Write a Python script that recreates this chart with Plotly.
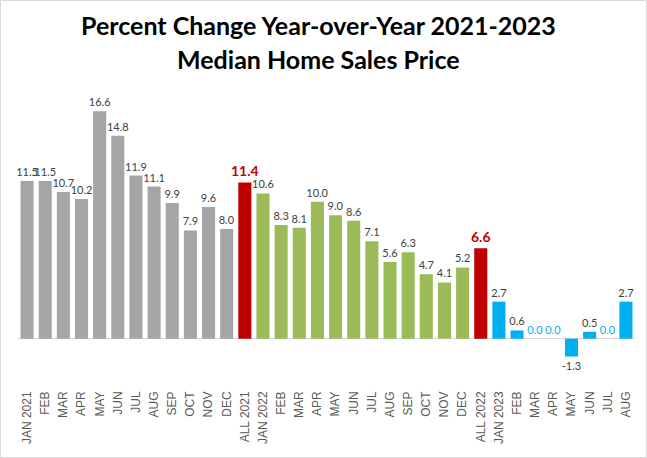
import plotly.graph_objects as go

labels = ["JAN 2021", "FEB", "MAR", "APR", "MAY", "JUN", "JUL", "AUG", "SEP", "OCT", "NOV", "DEC", "ALL 2021",
          "JAN 2022", "FEB", "MAR", "APR", "MAY", "JUN", "JUL", "AUG", "SEP", "OCT", "NOV", "DEC", "ALL 2022",
          "JAN 2023", "FEB", "MAR", "APR", "MAY", "JUN", "JUL", "AUG"]
values_2021 = [11.5, 11.5, 10.7, 10.2, 16.6, 14.8, 11.9, 11.1, 9.9, 7.9, 9.6, 8.0]
all_2021 = [11.4]
values_2022 = [10.6, 8.3, 8.1, 10.0, 9.0, 8.6, 7.1, 5.6, 6.3, 4.7, 4.1, 5.2]
all_2022 = [6.6]
values_2023 = [2.7, 0.6, 0.0, 0.0, -1.3, 0.5, 0.0, 2.7]
title_lines = ["Percent Change Year-over-Year 2021-2023", "Median Home Sales Price"]

GRAY, RED, GREEN, BLUE = "#A5A5A5", "#C00000", "#9BBB59", "#00B0F0"
LBL = "#404040"
BAR_W = 0.72

n21, n22, n23 = len(values_2021), len(values_2022), len(values_2023)
x21 = list(range(0, n21))
xa21 = [n21]
x22 = list(range(n21 + 1, n21 + 1 + n22))
xa22 = [n21 + 1 + n22]
x23 = list(range(n21 + 2 + n22, n21 + 2 + n22 + n23))
x_all = list(range(len(labels)))

fig = go.Figure()


def add(xs, ys, color, fmt="{:.1f}", font_color=LBL, size=11):
    fig.add_trace(go.Bar(
        x=xs, y=ys, width=BAR_W, marker=dict(color=color, line=dict(width=0)),
        text=[fmt.format(v) for v in ys], textposition="outside",
        textfont=dict(color=font_color, size=size, family="Lato"),
        constraintext="none", cliponaxis=False, hoverinfo="skip",
    ))


add(x21, values_2021, GRAY)
add(xa21 + xa22, all_2021 + all_2022, RED, fmt="<b>{:.1f}</b>", font_color=RED, size=14)
add(x22, values_2022, GREEN)
add(x23, values_2023, BLUE, font_color=[BLUE if v == 0 else LBL for v in values_2023])

W, H = 647, 458
L, R, T, B = 18, 12, 92, 70
PW, PH = W - L - R, H - T - B


def px_x(p):
    return (p - L) / PW


def px_y(p):
    return (H - B - p) / PH


annotations = [
    dict(text=f"<b>{t}</b>", xref="paper", yref="paper", x=px_x(318), y=px_y(yy),
         xanchor="center", yanchor="middle", showarrow=False,
         font=dict(family="Lato", size=25, color="black"))
    for t, yy in zip(title_lines, [25, 59])
]

fig.update_layout(
    width=W, height=H,
    margin=dict(l=L, r=R, t=T, b=B, autoexpand=False),
    paper_bgcolor="white", plot_bgcolor="white",
    barmode="overlay",
    showlegend=False,
    annotations=annotations,
    xaxis=dict(
        tickmode="array", tickvals=x_all, ticktext=labels, tickangle=-90,
        tickfont=dict(family="Liberation Sans", size=12, color="#595959"),
        showline=False, showgrid=False, ticks="", automargin=False,
        range=[-0.5, len(labels) - 0.5],
    ),
    yaxis=dict(
        range=[-3.6, 18], showticklabels=False, showgrid=False,
        zeroline=True, zerolinecolor="#D9D9D9", zerolinewidth=1,
        showline=False, ticks="",
    ),
    shapes=[dict(
        type="rect", xref="paper", yref="paper",
        x0=px_x(0.5), x1=px_x(W - 0.5), y0=px_y(H - 0.5), y1=px_y(0.5),
        line=dict(color="#D9D9D9", width=1), fillcolor="rgba(0,0,0,0)",
        layer="below",
    )],
)

fig.write_html("out.html", config={"displayModeBar": False},
               post_script="document.body.style.margin='0';")
